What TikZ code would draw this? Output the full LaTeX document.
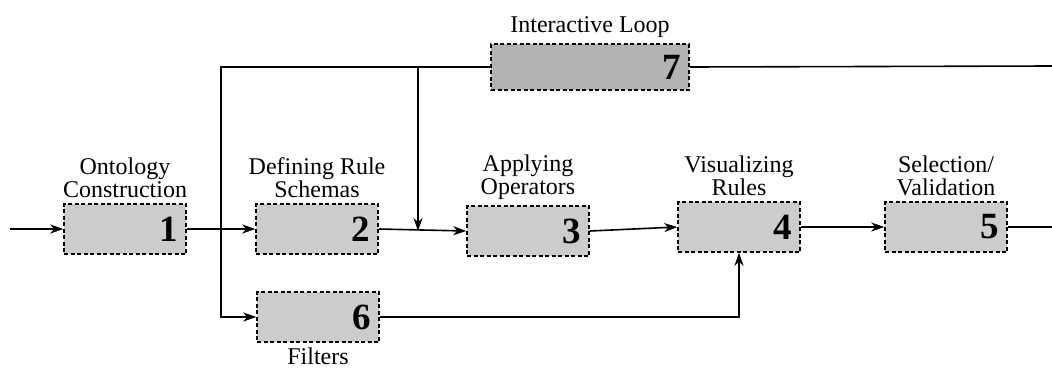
\documentclass[tikz,border=0pt]{standalone}
\usepackage{fontspec}
\setmainfont{Liberation Serif}
\usetikzlibrary{calc,arrows.meta}
\definecolor{stagefill}{gray}{0.8}
\definecolor{loopfill}{gray}{0.7}

\begin{document}
\begin{tikzpicture}[x=1pt,y=-1pt,
    stagebox/.style={draw,fill=stagefill,line width=1.5pt,dash pattern=on 4pt off 2.5pt,
      minimum width=122pt,minimum height=50pt,text width=106pt,align=right,inner sep=6pt,
      font=\fontsize{37}{37}\selectfont\bfseries},
    loopbox/.style={stagebox,fill=loopfill,minimum width=198pt,text width=182pt,minimum height=46pt},
    stagelabel/.style={align=center,inner sep=1pt,font=\fontsize{24}{23.5}\selectfont},
    flow/.style={line width=1.6pt,-{Stealth[length=13pt,width=9pt,inset=4pt]}},
    plain/.style={line width=1.6pt}]
    \useasboundingbox (0,0) rectangle (1052,370);
    % stages
    \node[stagebox] (b1) at (125,229) {1};
    \node[stagebox] (b2) at (317,229) {2};
    \node[stagebox] (b3) at (528,231) {3};
    \node[stagebox] (b4) at (739,227) {4};
    \node[stagebox] (b5) at (946,227) {5};
    \node[stagebox] (b6) at (318,317) {6};
    \node[loopbox] (b7) at (590,67) {7};
    % labels
    \node[stagelabel,anchor=south] (l1) at ([yshift=4pt]b1.north) {Ontology\\Construction};
    \node[stagelabel,anchor=south] (l2) at ([yshift=4pt]b2.north) {Defining Rule\\Schemas};
    \node[stagelabel,anchor=south] (l3) at ([yshift=4pt]b3.north) {Applying\\Operators};
    \node[stagelabel,anchor=south] (l4) at ([yshift=4pt]b4.north) {Visualizing\\Rules};
    \node[stagelabel,anchor=south] (l5) at ([yshift=4pt]b5.north) {Selection/\\Validation};
    \node[stagelabel,anchor=north] (l6) at ([yshift=-4pt]b6.south) {Filters};
    \node[stagelabel,anchor=south] (l7) at ([yshift=4pt]b7.north) {Interactive Loop};
    % free ends and branch points
    \coordinate (start) at (10,229);
    \coordinate (end5) at (1052,227);
    \coordinate (end7) at (1052,66);
    \coordinate (split) at ($(b1.east)!0.5!(b2.west)$);
    \coordinate (join) at (418,231);
    % connectors
    \draw[flow] (start) -- (b1.west);
    \draw[flow] (b1.east) -- (b2.west);
    \draw[flow] (b2.east) -- (b3.west);
    \draw[flow] (b3.east) -- (b4.west);
    \draw[flow] (b4.east) -- (b5.west);
    \draw[plain] (b5.east) -- (end5);
    \draw[plain] (b7.east) -- (end7);
    \draw[flow] (b7.west) -| (split) |- (b6.west);
    \draw[flow] (join |- b7.west) -- (join);
    \draw[flow] (b6.east) -| (b4.south);
\end{tikzpicture}
\end{document}
